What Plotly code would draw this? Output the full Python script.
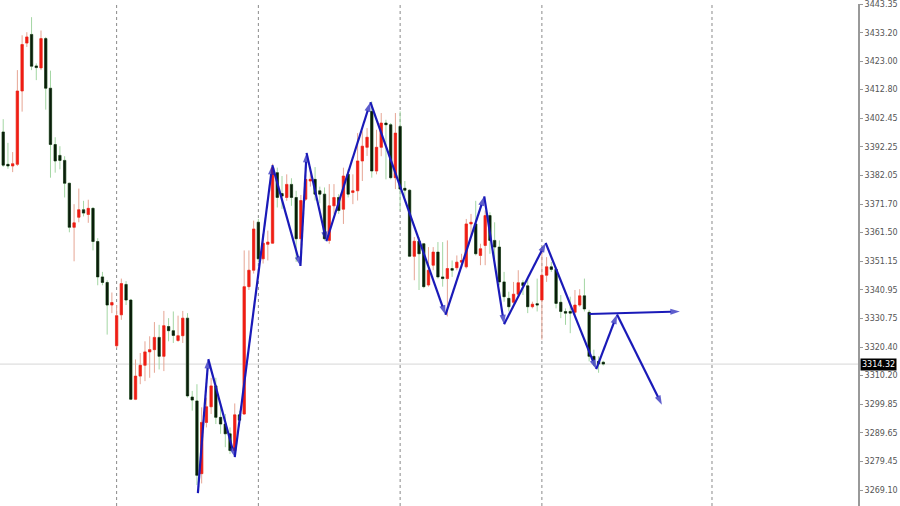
import plotly.graph_objects as go

# ---- candle data (index = bar number) ----
opens = [3397.6, 3386.0, 3385.4, 3386.0, 3412.3, 3429.5, 3432.6, 3421.3, 3420.6, 3431.1,
         3413.3, 3393.1, 3389.2, 3387.4, 3379.2, 3363.4, 3367.0, 3369.7, 3368.0, 3370.2,
         3358.3, 3345.6, 3343.6, 3335.5, 3320.9, 3332.0, 3342.9, 3337.3, 3301.7, 3310.0,
         3313.9, 3318.7, 3319.5, 3323.9, 3317.1, 3327.8, 3326.3, 3322.8, 3324.5, 3330.8,
         3302.5, 3301.1, 3275.0, 3293.4, 3299.0, 3306.5, 3295.2, 3292.8, 3289.3, 3283.3,
         3296.1, 3296.4, 3342.1, 3348.0, 3365.2, 3352.1, 3357.3, 3357.7, 3383.0, 3375.5,
         3374.1, 3378.8, 3374.1, 3359.3, 3373.5, 3380.0, 3380.6, 3376.5, 3375.3, 3358.7,
         3371.1, 3374.1, 3369.9, 3382.4, 3375.9, 3376.5, 3387.2, 3392.1, 3405.0, 3383.6,
         3392.1, 3400.8, 3400.2, 3381.2, 3399.6, 3377.4, 3376.7, 3353.0, 3358.4, 3357.5,
         3342.7, 3349.8, 3354.5, 3345.6, 3345.0, 3348.6, 3348.9, 3350.9, 3349.2, 3364.6,
         3364.6, 3353.3, 3356.9, 3367.6, 3358.7, 3356.3, 3343.8, 3337.9, 3336.5, 3339.4,
         3343.5, 3342.4, 3334.9, 3336.0, 3337.3, 3346.2, 3349.2, 3348.3, 3336.5, 3333.2,
         3333.2, 3332.9, 3335.5, 3338.8, 3332.9, 3317.1, 3315.3, 3315.0]
highs = [3402.2, 3393.7, 3390.4, 3419.8, 3432.3, 3433.4, 3438.8, 3422.2, 3434.0, 3431.7,
         3419.6, 3395.7, 3392.5, 3388.9, 3379.4, 3371.7, 3377.3, 3372.9, 3373.3, 3370.6,
         3359.5, 3347.4, 3344.4, 3340.0, 3335.5, 3345.0, 3344.1, 3337.7, 3316.0, 3318.3,
         3322.5, 3324.3, 3329.4, 3328.4, 3333.4, 3330.8, 3333.2, 3331.7, 3333.4, 3332.6,
         3304.7, 3307.1, 3298.8, 3302.3, 3309.4, 3309.4, 3299.9, 3296.4, 3291.6, 3300.2,
         3297.6, 3355.1, 3355.1, 3365.8, 3366.4, 3361.0, 3362.2, 3386.2, 3384.8, 3381.8,
         3382.4, 3381.0, 3376.5, 3375.0, 3385.4, 3385.0, 3385.0, 3378.0, 3377.7, 3378.9,
         3378.9, 3375.3, 3384.8, 3384.2, 3382.4, 3397.2, 3397.8, 3399.0, 3408.5, 3398.4,
         3404.4, 3402.0, 3400.8, 3404.4, 3405.0, 3380.0, 3377.1, 3359.9, 3359.9, 3357.5,
         3356.3, 3356.3, 3358.1, 3358.1, 3358.7, 3351.5, 3353.3, 3353.9, 3366.4, 3368.2,
         3372.9, 3357.5, 3369.4, 3368.8, 3365.2, 3358.7, 3347.4, 3340.3, 3343.8, 3348.0,
         3344.4, 3345.0, 3336.7, 3345.0, 3355.7, 3352.7, 3351.0, 3349.2, 3339.1, 3334.3,
         3338.5, 3340.9, 3341.2, 3345.0, 3333.8, 3319.5, 3317.1, 3315.5]
lows = [3385.1, 3384.4, 3383.2, 3385.4, 3404.9, 3428.1, 3419.8, 3416.2, 3419.8, 3405.6,
        3381.2, 3383.0, 3384.2, 3374.1, 3361.6, 3351.2, 3365.2, 3367.3, 3365.0, 3355.1,
        3342.6, 3342.6, 3324.9, 3332.6, 3320.1, 3330.2, 3335.5, 3301.4, 3301.4, 3307.1,
        3308.2, 3309.4, 3311.2, 3312.4, 3311.8, 3322.5, 3321.9, 3322.3, 3321.9, 3302.3,
        3297.6, 3270.9, 3271.5, 3291.6, 3296.4, 3292.8, 3289.3, 3284.5, 3282.1, 3281.9,
        3292.2, 3296.1, 3340.9, 3346.8, 3350.9, 3350.4, 3351.5, 3357.5, 3370.5, 3370.0,
        3372.9, 3371.1, 3351.0, 3352.0, 3372.9, 3378.0, 3373.0, 3372.0, 3358.7, 3357.5,
        3368.2, 3368.2, 3364.6, 3374.1, 3371.7, 3373.0, 3380.0, 3389.0, 3381.2, 3382.4,
        3388.9, 3380.6, 3380.6, 3377.1, 3369.4, 3374.1, 3352.7, 3344.4, 3340.9, 3341.5,
        3342.1, 3348.0, 3345.0, 3342.1, 3331.4, 3345.6, 3348.0, 3348.6, 3348.6, 3359.9,
        3353.3, 3349.8, 3349.8, 3353.9, 3352.1, 3342.6, 3336.7, 3333.2, 3335.5, 3338.5,
        3339.1, 3332.6, 3334.3, 3333.2, 3323.1, 3343.8, 3347.4, 3334.3, 3330.8, 3328.4,
        3325.4, 3332.0, 3334.9, 3333.2, 3315.3, 3313.6, 3311.2, 3313.8]
closes = [3385.7, 3385.4, 3386.2, 3412.3, 3429.0, 3431.7, 3421.2, 3420.7, 3431.1, 3413.3,
          3393.1, 3387.2, 3387.4, 3379.2, 3363.4, 3365.0, 3369.7, 3368.5, 3370.2, 3358.3,
          3345.6, 3343.6, 3335.5, 3336.4, 3331.7, 3343.2, 3337.3, 3301.7, 3310.0, 3313.9,
          3318.7, 3319.5, 3323.9, 3317.1, 3328.1, 3326.3, 3324.6, 3324.5, 3330.8, 3302.9,
          3301.4, 3274.4, 3293.4, 3299.0, 3306.5, 3295.2, 3292.8, 3289.3, 3283.3, 3296.1,
          3294.2, 3342.1, 3348.0, 3362.8, 3352.1, 3357.7, 3358.1, 3384.8, 3374.1, 3374.6,
          3378.8, 3374.1, 3359.3, 3373.0, 3380.6, 3380.6, 3375.3, 3375.3, 3359.3, 3371.1,
          3374.1, 3369.4, 3381.8, 3375.3, 3376.5, 3387.2, 3392.5, 3395.7, 3383.6, 3392.1,
          3400.8, 3400.2, 3381.2, 3397.2, 3377.1, 3376.7, 3353.0, 3358.4, 3353.9, 3342.1,
          3348.0, 3354.5, 3345.6, 3345.0, 3348.6, 3348.0, 3350.9, 3351.5, 3364.6, 3365.2,
          3353.9, 3355.7, 3367.6, 3358.7, 3356.3, 3343.8, 3338.5, 3334.9, 3339.4, 3343.5,
          3342.5, 3334.9, 3335.8, 3335.5, 3346.2, 3349.2, 3348.3, 3336.1, 3333.2, 3332.6,
          3332.6, 3335.5, 3338.8, 3334.1, 3317.1, 3315.9, 3314.4, 3314.32]
bars = list(range(len(closes)))

# ---- drawn analysis lines ----
zig_x = [41.2, 43.4, 49.0, 56.95, 62.9, 64.2, 68.4, 77.7, 93.6, 101.8, 106.0, 114.8, 125.5, 129.9, 139.4]
zig_y = [3268.0, 3316.1, 3280.9, 3385.7, 3349.5, 3390.1, 3358.4, 3408.3, 3332.0, 3374.5,
         3328.6, 3357.8, 3312.5, 3332.1, 3299.7]
hline_x = [124.05, 143.2]
hline_y = [3332.3, 3333.2]

grid_bars = [24, 54, 84, 114, 150]
last_price = 3314.32

tick_vals = [3443.35, 3433.20, 3423.00, 3412.80, 3402.45, 3392.25, 3382.05, 3371.70, 3361.50,
             3351.15, 3340.95, 3330.75, 3320.40, 3310.20, 3299.85, 3289.65, 3279.45, 3269.10]
tick_text = [f"{v:.2f}" for v in tick_vals]

body_hi = [max(o, c) for o, c in zip(opens, closes)]
body_lo = [min(o, c) for o, c in zip(opens, closes)]

fig = go.Figure()
# wicks
fig.add_trace(go.Candlestick(
    x=bars, open=opens, high=highs, low=lows, close=closes,
    increasing=dict(line=dict(color="#e6a594", width=1), fillcolor="#e6a594"),
    decreasing=dict(line=dict(color="#a3d6a3", width=1), fillcolor="#a3d6a3"),
    hoverinfo="skip", showlegend=False))
# bodies
fig.add_trace(go.Candlestick(
    x=bars, open=opens, high=body_hi, low=body_lo, close=closes,
    increasing=dict(line=dict(color="#f01c14", width=0.5), fillcolor="#f01c14"),
    decreasing=dict(line=dict(color="#0a1e0a", width=0.5), fillcolor="#0a1e0a"),
    hoverinfo="skip", showlegend=False))

blue = "#1a1ab8"
fig.add_trace(go.Scatter(
    x=zig_x, y=zig_y, mode="lines+markers",
    line=dict(color=blue, width=2.2),
    marker=dict(symbol="arrow", angleref="previous", color=blue,
                size=[0] + [10] * (len(zig_x) - 1), line=dict(width=0)),
    hoverinfo="skip", showlegend=False))
fig.add_trace(go.Scatter(
    x=hline_x, y=hline_y, mode="lines+markers",
    line=dict(color=blue, width=2),
    marker=dict(symbol="arrow", angleref="previous", color=blue, size=[0, 10], line=dict(width=0)),
    hoverinfo="skip", showlegend=False))

shapes = []
for g in grid_bars:
    shapes.append(dict(type="line", xref="x", yref="paper", x0=g, x1=g, y0=0, y1=1,
                       line=dict(color="#8a8a8a", width=1, dash="dot"), layer="below"))
shapes.append(dict(type="line", xref="paper", yref="y", x0=0, x1=1, y0=last_price, y1=last_price,
                   line=dict(color="#d6d6d6", width=1), layer="below"))

fig.update_layout(
    width=900, height=506,
    margin=dict(l=0, r=42, t=0, b=0),
    paper_bgcolor="white", plot_bgcolor="white",
    shapes=shapes,
    hovermode=False,
    xaxis=dict(range=[-0.68, 180.9], showticklabels=False, showgrid=False, zeroline=False,
               rangeslider=dict(visible=False), showline=False, fixedrange=True),
    yaxis=dict(side="right", range=[3263.4, 3443.52], tickvals=tick_vals, ticktext=tick_text,
               showgrid=False, zeroline=False, showline=True, linecolor="#999999", linewidth=2,
               ticks="outside", ticklen=3, tickcolor="#999999", ticklabeloverflow="allow",
               tickfont=dict(family="DejaVu Sans", size=8, color="#555555"), fixedrange=True),
    annotations=[dict(x=1, xref="paper", y=last_price, yref="y", text=f"{last_price:.2f}",
                      xanchor="left", yanchor="middle", xshift=2, showarrow=False,
                      bgcolor="#000000", font=dict(family="DejaVu Sans", size=8, color="white"),
                      borderpad=1)],
)

fig.write_html("out.html", config={"displayModeBar": False},
               post_script="document.body.style.margin='0px';document.body.style.overflow='hidden';")
